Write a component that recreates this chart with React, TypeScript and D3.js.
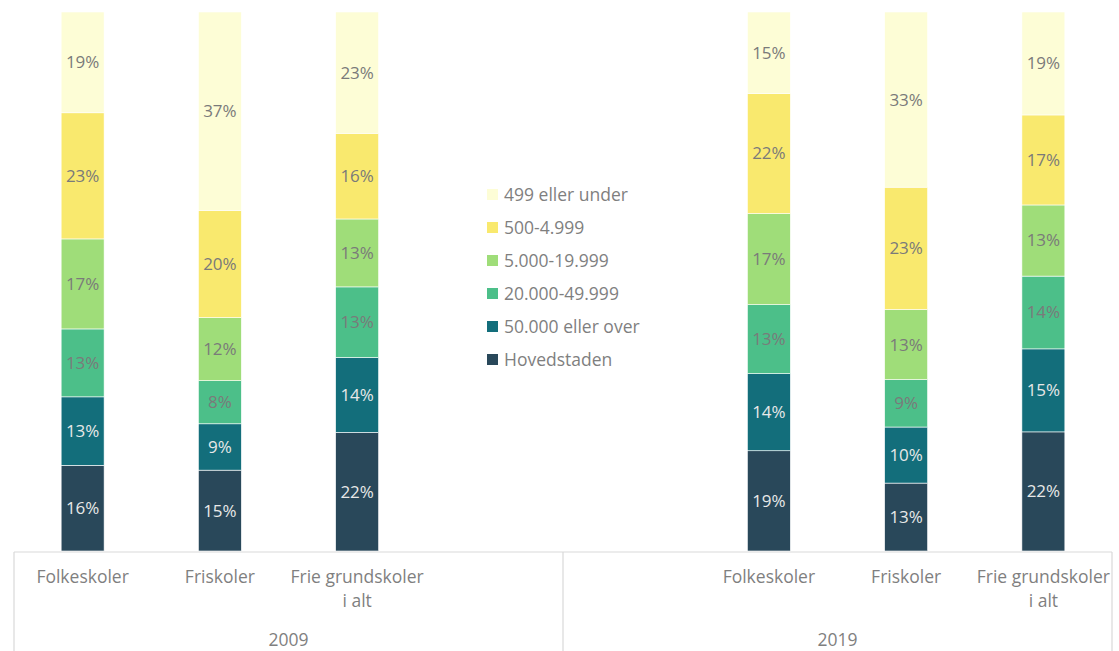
import React from "react";
import * as d3 from "d3";

// slots on the x axis: two year groups, each with one empty slot (legend sits there)
const years = ["2009", "2019"];
const slots = [
  ["2009", "Folkeskoler"],
  ["2009", "Friskoler"],
  ["2009", "Frie grundskoler i alt"],
  ["2009", ""],
  ["2019", ""],
  ["2019", "Folkeskoler"],
  ["2019", "Friskoler"],
  ["2019", "Frie grundskoler i alt"],
];
const barSlots = [0, 1, 2, 5, 6, 7];

// series, bottom to top, values per bar (2009 x3, 2019 x3)
const seriesNames = [
  "Hovedstaden",
  "50.000 eller over",
  "20.000-49.999",
  "5.000-19.999",
  "500-4.999",
  "499 eller under",
];
const hovedstaden = [15.9, 15.0, 22.0, 18.6, 12.6, 22.1];
const over50000 = [12.7, 8.6, 13.9, 14.3, 10.4, 15.4];
const s20000 = [12.6, 8.0, 13.1, 12.8, 8.8, 13.5];
const s5000 = [16.7, 11.7, 12.6, 16.9, 13.0, 13.2];
const s500 = [23.4, 19.9, 15.9, 22.3, 22.7, 16.7];
const under499 = [18.7, 36.8, 22.5, 15.1, 32.5, 19.1];

const colors = ["#29485a", "#136e7b", "#4cbf89", "#9fdd79", "#f9e96e", "#fdfdd6"];
const labelColors = ["#e8e8e8", "#e8e8e8", "#7a7a7a", "#7a7a7a", "#7a7a7a", "#7a7a7a"];

const W = 1119;
const H = 651;
const FONT = "'Open Sans', sans-serif";

export default function App() {
  const allSeries = [hovedstaden, over50000, s20000, s5000, s500, under499];
  const rows = barSlots.map((slot, i) => {
    const r: any = { slot };
    seriesNames.forEach((n, k) => (r[n] = allSeries[k][i]));
    return r;
  });
  const stacked = d3.stack<any>().keys(seriesNames)(rows);

  const x = d3
    .scaleBand<number>()
    .domain(d3.range(slots.length))
    .range([14, 1112])
    .paddingInner(0.687)
    .paddingOuter(0.3435);
  const y = d3.scaleLinear().domain([0, 100]).range([551, 12]);
  const axisY = 552;
  const groupX = d3.scaleBand<string>().domain(years).range([14, 1112]);

  const legendOrder = seriesNames.map((n, i) => i).reverse();

  return (
    <svg
      width={W}
      height={H}
      style={{ position: "absolute", left: 0, top: 0, background: "#fff" }}
      fontFamily={FONT}
    >
      {stacked.map((layer, k) => (
        <g key={layer.key}>
          {layer.map((d, i) => {
            const x0 = x(d.data.slot)!;
            const y0 = y(d[1]);
            const h = y(d[0]) - y(d[1]);
            return (
              <g key={i}>
                <rect
                  x={x0}
                  y={y0}
                  width={x.bandwidth()}
                  height={h}
                  fill={colors[k]}
                  stroke="#ffffff"
                  strokeWidth={0.6}
                />
                <text
                  x={x0 + x.bandwidth() / 2}
                  y={y0 + h / 2}
                  dy="0.35em"
                  textAnchor="middle"
                  fontSize={17}
                  fill={labelColors[k]}
                >
                  {Math.round(d[1] - d[0]) + "%"}
                </text>
              </g>
            );
          })}
        </g>
      ))}

      {/* axis line and group separators */}
      <line x1={14} x2={1112} y1={axisY} y2={axisY} stroke="#d9d9d9" strokeWidth={1.2} />
      {[14, 563, 1112].map((lx) => (
        <line key={lx} x1={lx} x2={lx} y1={axisY} y2={H} stroke="#d9d9d9" strokeWidth={1.2} />
      ))}

      {slots.map(([, cat], i) => {
        if (!cat) return null;
        const cx = x(i)! + x.bandwidth() / 2;
        const lines = cat === "Frie grundskoler i alt" ? ["Frie grundskoler", "i alt"] : [cat];
        return (
          <text key={i} x={cx} y={583} textAnchor="middle" fontSize={17.5} fill="#7f7f7f">
            {lines.map((l, j) => (
              <tspan key={j} x={cx} dy={j === 0 ? 0 : 24}>
                {l}
              </tspan>
            ))}
          </text>
        );
      })}

      {years.map((yr) => (
        <text
          key={yr}
          x={groupX(yr)! + groupX.bandwidth() / 2}
          y={646}
          textAnchor="middle"
          fontSize={17.5}
          fill="#7f7f7f"
        >
          {yr}
        </text>
      ))}

      {/* legend */}
      <g>
        {legendOrder.map((k, j) => (
          <g key={k} transform={`translate(487, ${195 + j * 33})`}>
            <rect x={0} y={-6} width={11} height={11} fill={colors[k]} />
            <text x={17} y={0} dy="0.35em" fontSize={17.5} fill="#7f7f7f">
              {seriesNames[k]}
            </text>
          </g>
        ))}
      </g>
    </svg>
  );
}
